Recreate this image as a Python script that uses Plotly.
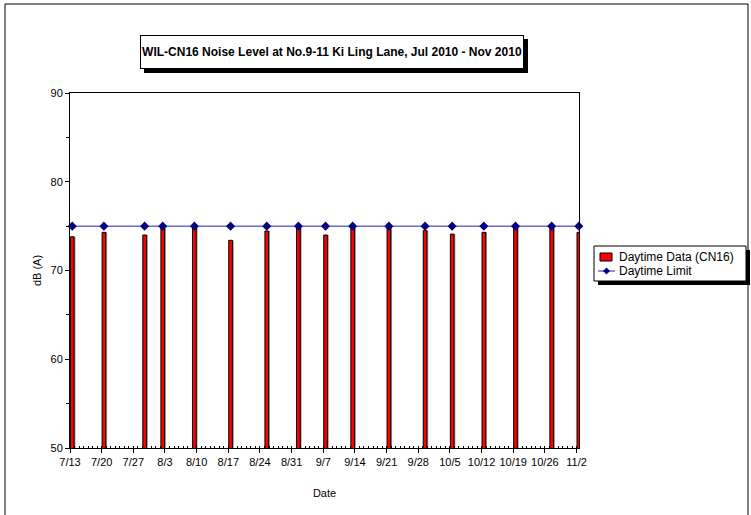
import plotly.graph_objects as go

# survey dates and measured daytime Leq, dB(A)
dates = ['2010-07-13', '2010-07-20', '2010-07-29', '2010-08-02', '2010-08-09',
         '2010-08-17', '2010-08-25', '2010-09-01', '2010-09-07', '2010-09-13',
         '2010-09-21', '2010-09-29', '2010-10-05', '2010-10-12', '2010-10-19',
         '2010-10-27', '2010-11-02']
daytime_data = [73.8, 74.3, 74.0, 74.8, 74.8, 73.4, 74.45, 74.8, 74.0, 74.8,
                74.8, 74.5, 74.1, 74.3, 74.8, 74.8, 74.3]
daytime_limit = [75] * len(dates)

W, H = 751, 515
L, R, T, B = 70, 172, 93, 67
FONT = 'Liberation Sans, Arial, sans-serif'
DAY = 86400000
LINE_COL = '#6C6CC8'
MARK_COL = '#000080'


def px(x):
    return (x - L) / (W - L - R)


def py(y):
    return (H - B - y) / (H - T - B)


fig = go.Figure()

# grey drop shadow behind each bar
fig.add_trace(go.Bar(
    x=dates, y=daytime_data, showlegend=False, hoverinfo='skip',
    xperiod=DAY, xperiodalignment='middle',
    width=0.8 * DAY, offset=-0.1 * DAY,
    marker=dict(color='#8C8C8C', line=dict(width=0)),
))

fig.add_trace(go.Bar(
    x=dates, y=daytime_data,
    name='Daytime Data (CN16)',
    xperiod=DAY, xperiodalignment='middle',
    width=0.8 * DAY, offset=-0.4 * DAY,
    marker=dict(color='#FF0000', line=dict(color='black', width=1)),
))

fig.add_trace(go.Scatter(
    x=dates, y=daytime_limit,
    name='Daytime Limit',
    xperiod=DAY, xperiodalignment='middle',
    mode='lines+markers',
    line=dict(color=LINE_COL, width=1.5),
    marker=dict(symbol='diamond', size=7, color=MARK_COL),
    cliponaxis=False,
))

fig.update_xaxes(
    type='date', automargin=False,
    range=['2010-07-13', '2010-11-02 13:00'],
    tick0='2010-07-13', dtick=7 * DAY,
    tickformat='%-m/%-d',
    ticks='outside', ticklen=4, tickcolor='black',
    minor=dict(dtick=DAY, ticks='inside', ticklen=2, tickcolor='black'),
    showline=True, linecolor='black', linewidth=1, mirror=True,
    showgrid=False, zeroline=False,
    title=dict(text='Date', font=dict(size=11, color='black'), standoff=22),
    tickfont=dict(size=11, color='black'),
)

fig.update_yaxes(
    range=[50, 90], dtick=10, automargin=False,
    ticks='outside', ticklen=4, tickcolor='black',
    minor=dict(dtick=5, ticks='outside', ticklen=3, tickcolor='black'),
    showline=True, linecolor='black', linewidth=1, mirror=True,
    showgrid=False, zeroline=False,
    title=dict(text='dB (A)', font=dict(size=11, color='black'), standoff=6),
    tickfont=dict(size=11, color='black'),
)

# title box with drop shadow
tx0, tx1, ty0, ty1 = 140, 524, 35, 69
fig.add_shape(type='rect', xref='paper', yref='paper',
              x0=px(tx0 + 4), x1=px(tx1 + 4), y0=py(ty1 + 4), y1=py(ty0 + 4),
              fillcolor='black', line=dict(width=0))
fig.add_annotation(
    xref='paper', yref='paper', x=px((tx0 + tx1) / 2), y=py((ty0 + ty1) / 2),
    xanchor='center', yanchor='middle', showarrow=False,
    text='<b>WIL-CN16 Noise Level at No.9-11 Ki Ling Lane, Jul 2010 - Nov 2010</b>',
    font=dict(family=FONT, size=12, color='black'),
    width=tx1 - tx0 - 2, height=ty1 - ty0 - 2, borderpad=0,
    bgcolor='white', bordercolor='black', borderwidth=1,
)

# legend box with drop shadow, drawn by hand so the rows sit as tight as the original
lx0, lx1, ly0, ly1 = 594, 746, 246, 281
fig.add_shape(type='rect', xref='paper', yref='paper',
              x0=px(lx0 + 4), x1=px(lx1 + 4), y0=py(ly1 + 4), y1=py(ly0 + 4),
              fillcolor='black', line=dict(width=0))
fig.add_shape(type='rect', xref='paper', yref='paper',
              x0=px(lx0), x1=px(lx1), y0=py(ly1), y1=py(ly0),
              fillcolor='white', line=dict(color='black', width=1))
row1, row2 = 257, 271
fig.add_shape(type='rect', xref='paper', yref='paper',
              x0=px(600), x1=px(612), y0=py(row1 + 4), y1=py(row1 - 4),
              fillcolor='#FF0000', line=dict(color='black', width=1))
fig.add_shape(type='line', xref='paper', yref='paper',
              x0=px(598), x1=px(615), y0=py(row2), y1=py(row2),
              line=dict(color=LINE_COL, width=1.5))
fig.add_shape(type='path', xref='paper', yref='paper',
              path='M {a},{m} L {c},{t} L {b},{m} L {c},{u} Z'.format(
                  a=px(603), b=px(610), c=px(606.5), m=py(row2),
                  t=py(row2 - 3.5), u=py(row2 + 3.5)),
              fillcolor=MARK_COL, line=dict(width=0))
for row, label in [(row1, 'Daytime Data (CN16)'), (row2, 'Daytime Limit')]:
    fig.add_annotation(xref='paper', yref='paper', x=px(617), y=py(row),
                       xanchor='left', yanchor='middle', showarrow=False,
                       text=label, font=dict(size=12, color='black'))

# outer chart border
fig.add_shape(type='rect', xref='paper', yref='paper',
              x0=px(5), x1=px(748), y0=py(530), y1=py(4),
              line=dict(color='black', width=1), fillcolor='rgba(0,0,0,0)')

fig.update_layout(
    width=W, height=H,
    margin=dict(l=L, r=R, t=T, b=B),
    paper_bgcolor='white', plot_bgcolor='white',
    font=dict(family=FONT, size=11, color='black'),
    barmode='overlay',
    showlegend=False,
)

fig.write_html('out.html', config={'displayModeBar': False},
               post_script="document.body.style.margin='0px';")
